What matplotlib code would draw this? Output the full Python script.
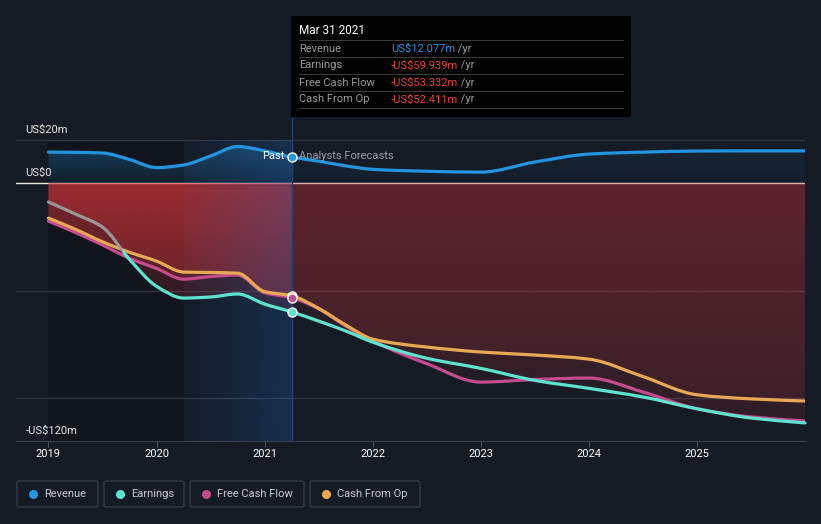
import numpy as np
import matplotlib
matplotlib.use("Agg")
import matplotlib.pyplot as plt
from matplotlib.path import Path
from matplotlib.patches import PathPatch, Rectangle, FancyBboxPatch
from matplotlib.lines import Line2D
from matplotlib.colors import to_rgb

plt.rcParams["font.family"] = ["Roboto", "DejaVu Sans"]

# ---- data (US$ m), quarterly history then analyst forecasts ----
dates = [2019.0, 2019.25, 2019.5, 2019.75, 2020.0, 2020.25, 2020.5, 2020.75, 2021.0, 2021.25,
         2021.5, 2021.75, 2022.0, 2022.5, 2023.0, 2023.5, 2024.0, 2024.5, 2025.0, 2025.5, 2026.0]
revenue = [14.4, 14.3, 14.0, 11.0, 7.2, 8.4, 12.6, 17.0, 15.0, 12.077,
           10.2, 8.0, 6.4, 5.5, 5.1, 9.8, 13.5, 14.4, 14.9, 15.0, 15.0]
earnings = [-8.8, -14.4, -20.5, -35.5, -48.0, -53.5, -53.0, -51.6, -56.3, -59.939,
            -64.2, -68.8, -74.0, -81.5, -86.2, -91.8, -95.5, -99.5, -105.0, -109.3, -111.6]
free_cash_flow = [-17.7, -23.0, -28.8, -35.0, -39.7, -44.7, -43.5, -42.8, -51.0, -53.332,
                  -58.5, -66.5, -73.5, -84.0, -92.6, -91.4, -90.7, -97.2, -105.0, -108.8, -110.7]
cash_from_op = [-16.3, -21.5, -27.3, -32.2, -36.3, -41.4, -41.6, -41.9, -50.5, -52.411,
                -58.3, -66.0, -72.6, -76.3, -78.6, -80.0, -81.9, -90.0, -98.5, -100.4, -101.4]

series_names = ["Revenue", "Earnings", "Free Cash Flow", "Cash From Op"]
series_colors = ["#2394df", "#5fe3cf", "#c44b8d", "#e8a955"]
tooltip_values = ["US$12.077m", "-US$59.939m", "-US$53.332m", "-US$52.411m"]
year_ticks = [2019, 2020, 2021, 2022, 2023, 2024, 2025]

BG = "#151b25"
NOW = 2021.25
W, H = 821, 524


def fx(px):
    return px / W


def fy(py):
    return 1 - py / H


def monotone(xs, ys):
    """cubic bezier path through the points (monotone tangents, like d3 curveMonotoneX)"""
    xs = np.asarray(xs, float)
    ys = np.asarray(ys, float)
    h = np.diff(xs)
    d = np.diff(ys) / h
    m = np.zeros(len(xs))
    m[0], m[-1] = d[0], d[-1]
    for i in range(1, len(xs) - 1):
        if d[i - 1] * d[i] <= 0:
            m[i] = 0
        else:
            m[i] = 3 * (h[i - 1] + h[i]) / ((2 * h[i] + h[i - 1]) / d[i - 1] + (h[i] + 2 * h[i - 1]) / d[i])
    verts = [(xs[0], ys[0])]
    codes = [Path.MOVETO]
    for i in range(len(xs) - 1):
        verts += [(xs[i] + h[i] / 3, ys[i] + m[i] * h[i] / 3),
                  (xs[i + 1] - h[i] / 3, ys[i + 1] - m[i + 1] * h[i] / 3),
                  (xs[i + 1], ys[i + 1])]
        codes += [Path.CURVE4] * 3
    return verts, codes


def area_patch(xs, ys):
    verts, codes = monotone(xs, ys)
    verts = [(xs[0], 0)] + verts + [(xs[-1], 0), (xs[0], 0)]
    codes = [Path.MOVETO, Path.LINETO] + codes[1:] + [Path.LINETO, Path.CLOSEPOLY]
    return PathPatch(Path(verts, codes), transform=ax.transData)


def grad_fill(clip, x0, x1, y0, y1, color, a_top, a_bot, horizontal=False, z=2):
    n = 200
    rgba = np.zeros((n, n, 4))
    rgba[..., :3] = to_rgb(color)
    a = np.linspace(a_top, a_bot, n)
    rgba[..., 3] = a[None, :] if horizontal else a[:, None]
    im = ax.imshow(rgba, extent=[x0, x1, y0, y1], aspect="auto", origin="upper",
                   interpolation="bilinear", zorder=z)
    if clip is not None:
        im.set_clip_path(clip)


fig = plt.figure(figsize=(8.21, 5.24), dpi=100, facecolor=BG)
ax = fig.add_axes([fx(16), 1 - 441 / H, 789 / W, 331 / H])
ax.set_facecolor(BG)

# dark past band
ax.fill_between([2019.0, 2020.25], -120, 20, color="#000000", alpha=0.2, lw=0, zorder=1)

# grid lines
for g in [20, -50, -100]:
    ax.axhline(g, color="#2e3540", lw=1, zorder=1)
ax.axhline(0, color="#e6e6e6", lw=1, zorder=1.5)

# revenue area
rev_clip = area_patch(dates, revenue)
grad_fill(rev_clip, 2019.0, NOW, 0, 20, "#2394df", 0.36, 0.08)
grad_fill(rev_clip, NOW, 2026.0, 0, 20, "#2394df", 0.10, 0.03)

# loss areas, one layer per series
for vals in [earnings, free_cash_flow, cash_from_op]:
    clip = area_patch(dates, vals)
    grad_fill(clip, 2019.0, NOW, -70, 0, "#e1373c", 0.30, 0.12)
    grad_fill(clip, NOW, 2026.0, -120, 0, "#e1373c", 0.14, 0.06)

# blue band for the last year of history
grad_fill(None, 2020.25, NOW, -120, 20, "#1f6fd0", 0.02, 0.24, horizontal=True, z=3)

# lines
for vals, col in zip([revenue, free_cash_flow, cash_from_op], [series_colors[0], series_colors[2], series_colors[3]]):
    v, c = monotone(dates, vals)
    ax.add_patch(PathPatch(Path(v, c), fill=False, edgecolor=col, lw=2.3, capstyle="round", zorder=5))

v, c = monotone(dates, earnings)
teal = PathPatch(Path(v, c), fill=False, edgecolor=series_colors[1], lw=2.3, capstyle="round", zorder=5)
gray = PathPatch(Path(v, c), fill=False, edgecolor="#9a9696", lw=2.3, capstyle="round", zorder=5)
ax.add_patch(teal)
ax.add_patch(gray)
split = 2019.69
teal.set_clip_path(Rectangle((split, -130), 10, 200, transform=ax.transData))
gray.set_clip_path(Rectangle((2018, -130), split - 2018, 200, transform=ax.transData))

# "now" line and markers
ax.plot([NOW, NOW], [-120, 30.3], color="#24406a", lw=1, zorder=4)
i_now = dates.index(NOW)
for vals, col in [(cash_from_op, series_colors[3]), (free_cash_flow, series_colors[2]),
                  (earnings, series_colors[1]), (revenue, series_colors[0])]:
    ax.plot(NOW, vals[i_now], "o", ms=6.5, mfc=col, mec="white", mew=1, zorder=6)

ax.set_xlim(2018.7, 2026.0)
ax.set_ylim(-120, 34)
ax.set_xticks(year_ticks)
ax.set_xticklabels([str(y) for y in year_ticks], color="white", fontsize=8)
ax.tick_params(axis="x", length=4, color="#4a515c", pad=2)
ax.set_yticks([])
for s in ["top", "left", "right"]:
    ax.spines[s].set_visible(False)
ax.spines["bottom"].set_color("#3a414c")

# y labels
for val, lab in [(20, "US$20m"), (0, "US$0"), (-120, "-US$120m")]:
    ax.annotate(lab, xy=(0.012, val), xycoords=ax.get_yaxis_transform(), xytext=(0, 3.6),
                textcoords="offset points", color="#e6e6e6", fontsize=8, va="bottom")
ax.text(NOW - 0.07, 12.5, "Past", color="white", fontsize=8, ha="right", va="center", zorder=7)
ax.text(NOW + 0.07, 12.5, "Analysts Forecasts", color="#9aa0a8", fontsize=8, ha="left", va="center", zorder=7)

# tooltip
fig.add_artist(Rectangle((fx(291), fy(117)), 340 / W, 101 / H, transform=fig.transFigure,
                         facecolor="black", edgecolor="none"))
fig.text(fx(299), fy(31), "Mar 31 2021", color="white", fontsize=8.5, va="center")
for k in range(5):
    fig.add_artist(Line2D([fx(299), fx(623)], [fy(40 + 17 * k)] * 2, transform=fig.transFigure,
                          color="#3a3a3a", lw=0.8))
for k, (name, val) in enumerate(zip(series_names, tooltip_values)):
    yy = fy(48.5 + 17 * k)
    fig.text(fx(299), yy, name, color="#9a9a9a", fontsize=8, va="center")
    t = fig.text(fx(391), yy, val, color="#2394df" if k == 0 else "#e8403f", fontsize=8, va="center")
    fig.add_artist(plt.Annotation(" /yr", xy=(1, 0.5), xycoords=t, va="center", ha="left",
                                  color="#9a9a9a", fontsize=8))

# legend
boxes = [(17, 98), (104, 184), (190, 304), (310, 420)]
for (x0, x1), name, col in zip(boxes, series_names, series_colors):
    fig.add_artist(FancyBboxPatch((fx(x0), fy(507)), (x1 - x0) / W, 26 / H, transform=fig.transFigure,
                                  boxstyle="round,pad=0,rounding_size=0.003", facecolor="none",
                                  edgecolor="#353c47", lw=1))
    fig.add_artist(Line2D([fx(x0 + 16)], [fy(494)], transform=fig.transFigure, marker="o",
                          ms=5.5, color=col, lw=0))
    fig.text(fx(x0 + 27), fy(494), name, color="#c8ccd2", fontsize=8, va="center")

fig.savefig("out.png", dpi=100, facecolor=BG)
